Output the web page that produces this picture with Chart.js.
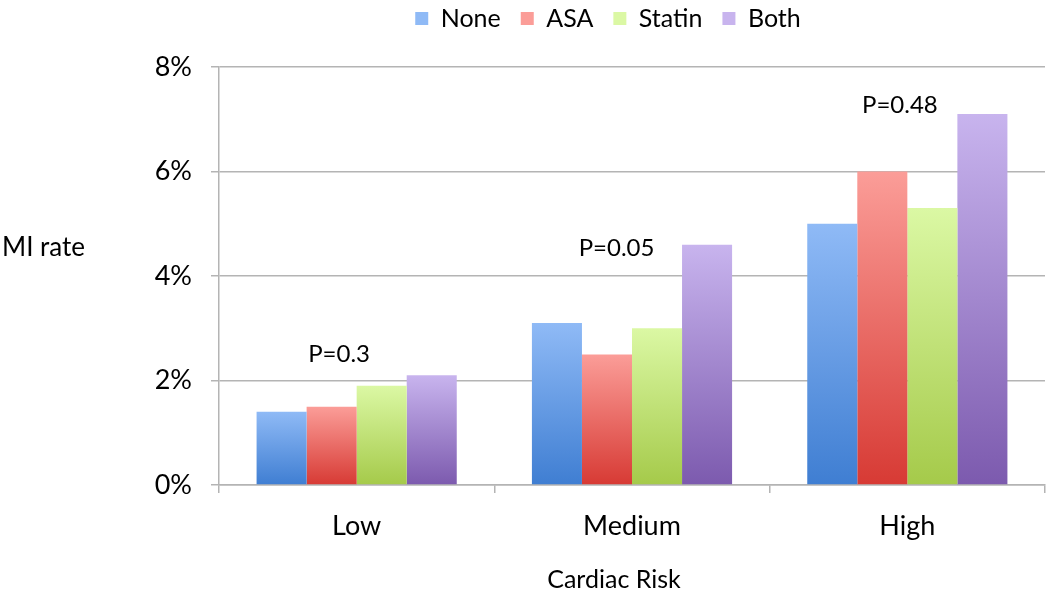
<!DOCTYPE html>
<html>
<head>
<meta charset="utf-8">
<script src="https://cdn.jsdelivr.net/npm/chart.js@4.4.1/dist/chart.umd.min.js"></script>
<style>
  html, body { margin: 0; padding: 0; background: #ffffff; }
  #wrap { width: 1050px; height: 599px; position: relative; }
</style>
</head>
<body>
<div id="wrap"><canvas id="c" width="1050" height="599"></canvas></div>
<script>
// ---- data ----
const categories = ['Low', 'Medium', 'High'];
const seriesNames = ['None', 'ASA', 'Statin', 'Both'];
const noneValues   = [1.4, 3.1, 5.0];
const asaValues    = [1.5, 2.5, 6.0];
const statinValues = [1.9, 3.0, 5.3];
const bothValues   = [2.1, 4.6, 7.1];
const yTicks = [0, 2, 4, 6, 8];
const pLabels = ['P=0.3', 'P=0.05', 'P=0.48'];
const pLabelValues = [2.51, 4.54, 7.27];
const pLabelShift = [-0.064, -0.056, -0.027];

// ---- styles ----
const FONT = 'Lato';
const gradients = [
  { top: '#8fbaf6', bottom: '#3f7ed2', solid: '#5b93dc' },
  { top: '#fb9d98', bottom: '#d73a34', solid: '#e05550' },
  { top: '#dbf8a4', bottom: '#a5ca4a', solid: '#b6dd68' },
  { top: '#c8b4ee', bottom: '#7c5aae', solid: '#9a7ccc' }
];
const gridColor = '#b4b4b4';

function gradFill(idx) {
  return function (ctx) {
    const g = gradients[idx];
    if (ctx.type !== 'data' || !ctx.chart.chartArea || !ctx.parsed) return g.solid;
    const chart = ctx.chart;
    const yScale = chart.scales.y;
    const yTop = yScale.getPixelForValue(ctx.parsed.y);
    const yBot = yScale.getPixelForValue(0);
    if (!isFinite(yTop) || !isFinite(yBot) || yTop === yBot) return g.solid;
    const lg = chart.ctx.createLinearGradient(0, yTop, 0, yBot);
    lg.addColorStop(0, g.top);
    lg.addColorStop(1, g.bottom);
    return lg;
  };
}

const seriesValues = [noneValues, asaValues, statinValues, bothValues];
const datasets = seriesNames.map((name, i) => ({
  label: name,
  data: seriesValues[i],
  backgroundColor: gradFill(i),
  borderWidth: 0,
  barPercentage: 1.0,
  categoryPercentage: 0.727
}));

// place legend like the reference (centred a bit right of the canvas centre, near the top)
const legendPlacer = {
  id: 'legendPlacer',
  afterLayout(chart) {
    const lg = chart.legend;
    if (!lg) return;
    const h = lg.height;
    lg.left = 171;
    lg.right = 1045;
    lg.width = lg.right - lg.left;
    lg.top = -14;
    lg.bottom = lg.top + h;
  }
};

const extraText = {
  id: 'extraText',
  afterDatasetsDraw(chart) {
    const { ctx } = chart;
    const x = chart.scales.x, y = chart.scales.y;
    ctx.save();
    ctx.fillStyle = '#000';
    ctx.textBaseline = 'middle';
    // P labels
    ctx.font = '24px ' + FONT;
    ctx.textAlign = 'center';
    pLabels.forEach((t, i) => {
      ctx.fillText(t, x.getPixelForValue(i + pLabelShift[i]), y.getPixelForValue(pLabelValues[i]));
    });
    // horizontal y-axis title
    ctx.font = '26px ' + FONT;
    ctx.textAlign = 'left';
    ctx.fillText('MI rate', 2, (y.top + y.bottom) / 2 - 28);
    // x-axis title
    ctx.font = '25px ' + FONT;
    ctx.textAlign = 'center';
    ctx.fillText('Cardiac Risk', 614, 580);
    ctx.restore();
  }
};

new Chart(document.getElementById('c'), {
  type: 'bar',
  data: { labels: categories, datasets },
  plugins: [legendPlacer, extraText],
  options: {
    responsive: false,
    animation: false,
    devicePixelRatio: 1,
    layout: { padding: { top: 0, right: 5, bottom: 0, left: 0 } },
    plugins: {
      legend: {
        position: 'top',
        align: 'center',
        labels: {
          boxWidth: 13,
          boxHeight: 13,
          padding: 20,
          color: '#000',
          font: { family: FONT, size: 25 }
        }
      },
      tooltip: { enabled: false }
    },
    scales: {
      x: {
        offset: true,
        grid: {
          offset: true,
          drawOnChartArea: false,
          drawTicks: true,
          tickLength: 8,
          color: gridColor,
          lineWidth: 1.5
        },
        border: { display: true, color: gridColor, width: 1.5 },
        ticks: { color: '#000', font: { family: FONT, size: 27 }, padding: 17 },
        title: { display: false, text: 'Cardiac Risk' },
        afterFit(scale) { scale.height = 114; }
      },
      y: {
        min: 0,
        max: 8,
        afterBuildTicks(scale) { scale.ticks = yTicks.map(v => ({ value: v })); },
        grid: {
          color: gridColor,
          lineWidth: 1.5,
          tickLength: 8,
          drawTicks: true
        },
        border: { display: true, color: gridColor, width: 1.5 },
        ticks: {
          color: '#000',
          font: { family: FONT, size: 27 },
          padding: 19,
          callback: v => v + '%'
        },
        afterFit(scale) { scale.width = 219; scale.paddingTop = 67; }
      }
    }
  }
});
</script>
</body>
</html>
